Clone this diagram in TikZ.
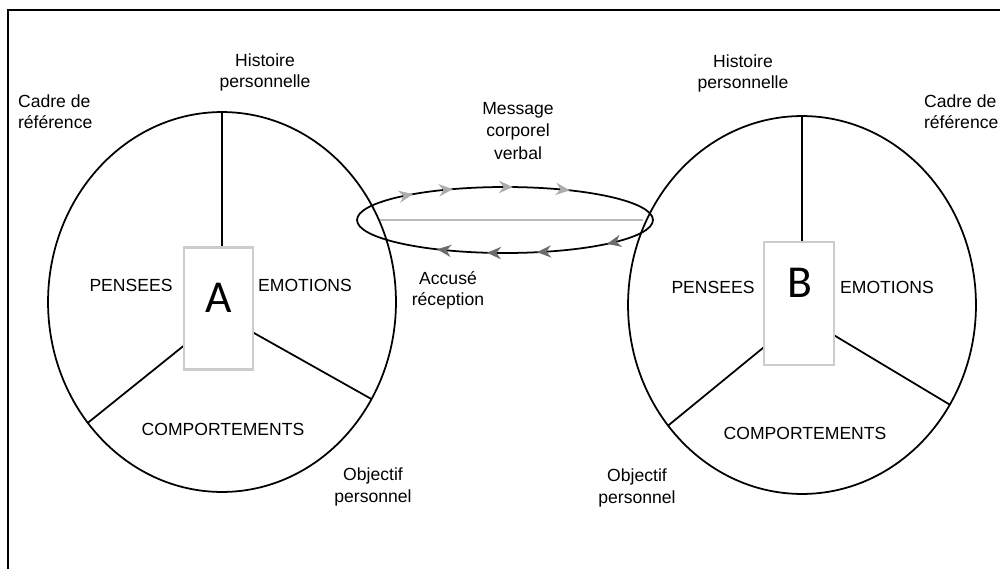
\documentclass[tikz,border=0pt]{standalone}
\usepackage{fontspec}
\setmainfont{Liberation Sans}
\newfontfamily\letterfont{Carlito}
\usepackage{tikz}
\usetikzlibrary{shapes.geometric,arrows.meta,calc}

\begin{document}
\begin{tikzpicture}[x=0.02cm,y=0.02cm,
  person/.style={ellipse,draw,line width=1pt,minimum width=6.96cm,minimum height=7.6cm,inner sep=0pt,outer sep=0pt},
  cadre/.style={draw=black!20,line width=1.2pt,fill=white,minimum width=1.39cm,minimum height=2.44cm,inner sep=0pt},
  lbl/.style={font=\fontsize{10}{12}\selectfont,align=center,inner sep=1pt},
  zone/.style={font=\fontsize{10}{12}\selectfont,inner sep=1pt},
  lettre/.style={font=\letterfont\fontsize{26}{30}\selectfont,inner sep=0pt},
  aller/.style={gray!65,line width=0.8pt,-{Stealth[length=8pt,width=7pt]}},
  retour/.style={gray!85!black,line width=0.8pt,-{Stealth[length=8pt,width=7pt]}}]
\useasboundingbox (0,0) rectangle (1000,569);
\draw[line width=1.2pt] (8,0) -- (8,559) -- (1000,559);

% les deux personnes
\node[person] (circA) at (222,267) {};
\node[person,minimum height=7.56cm] (circB) at (802,264) {};
\coordinate (hubA) at (222,254);
\coordinate (hubB) at (802,253);
\draw[line width=1pt] (hubA) -- (circA.north);
\draw[line width=1pt] (hubA) -- (circA.222);
\draw[line width=1pt] (hubA) -- (circA.327);
\draw[line width=1pt] (hubB) -- (circB.north);
\draw[line width=1pt] (hubB) -- (circB.222);
\draw[line width=1pt] (hubB) -- (circB.326);
\node[cadre] (boxA) at (218.5,260.5) {};
\node[cadre,minimum width=1.4cm,minimum height=2.46cm] (boxB) at (799,265.5) {};
\node[lettre] (letterA) at (219,271) {A};
\node[lettre] (letterB) at (800,286) {B};

% le canal
\node[ellipse,draw,line width=1pt,minimum width=5.92cm,minimum height=1.32cm,inner sep=0pt,outer sep=0pt] (canal) at (505,349) {};
\draw[gray!55,line width=1.6pt,shorten <=0.46cm,shorten >=0.2cm] (canal.west) -- (canal.east);
\foreach \t [evaluate=\t as \s using \t+2] in {128.5,110.6,86.9,64.0}
  \draw[aller] ($(canal)+(\s:148 and 33)$) -- ($(canal)+(\t:148 and 33)$);
\foreach \t [evaluate=\t as \s using \t+2] in {242.7,263.0,282.5,313.6}
  \draw[retour] ($(canal)+(\s:148 and 33)$) -- ($(canal)+(\t:148 and 33)$);

% textes
\node[lbl] (histA) at (265,497) {Histoire\\personnelle};
\node[lbl] (histB) at (743,496) {Histoire\\personnelle};
\node[lbl,align=left,anchor=west] (cadreA) at (16,457) {Cadre de\\référence};
\node[lbl,align=left,anchor=west] (cadreB) at (922,457) {Cadre de\\référence};
\node[lbl,font=\fontsize{10}{13}\selectfont] (msg) at (518,438) {Message\\corporel\\verbal};
\node[lbl] (accuse) at (448,279) {Accusé\\réception};
\node[zone] (pensA) at (131,284) {PENSEES};
\node[zone] (emoA) at (305,284) {EMOTIONS};
\node[zone] (pensB) at (713,282) {PENSEES};
\node[zone] (emoB) at (887,282) {EMOTIONS};
\node[zone] (compA) at (223,140) {COMPORTEMENTS};
\node[zone] (compB) at (805,136) {COMPORTEMENTS};
\node[lbl,font=\fontsize{10}{13}\selectfont] (objA) at (373,82) {Objectif\\personnel};
\node[lbl,font=\fontsize{10}{13}\selectfont] (objB) at (637,81) {Objectif\\personnel};
\end{tikzpicture}
\end{document}
